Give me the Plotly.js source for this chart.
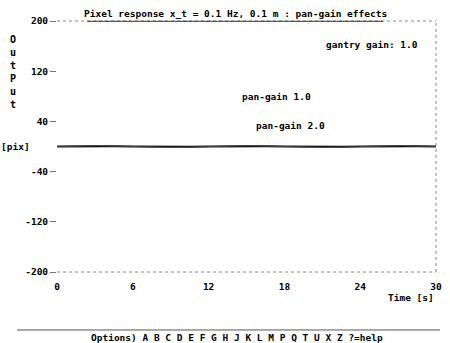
<!DOCTYPE html>
<html>
<head>
<meta charset="utf-8">
<script src="https://cdn.plot.ly/plotly-3.0.1.min.js"></script>
<style>html,body{margin:0;padding:0;background:#fff;}#chart{width:450px;height:343px;}</style>
</head>
<body>
<div id="chart"></div>
<script>
// Time axis samples [s]
const timeS = [0, 1.5, 3, 4.5, 6, 7.5, 9, 10.5, 12, 13.5, 15, 16.5, 18, 19.5, 21, 22.5, 24, 25.5, 27, 28.5, 30];
// Pixel output [pix], pan-gain 1.0 and pan-gain 2.0 (both read as ~0)
const outGain1 = [0, 0.5, 0.8, 0.4, 0, -0.4, -0.8, -0.5, 0, 0.5, 0.8, 0.4, 0, -0.4, -0.8, -0.5, 0, 0.5, 0.8, 0.4, 0];
const outGain2 = [0, 1, 1.5, 0.8, 0, -0.8, -1.5, -1, 0, 1, 1.5, 0.8, 0, -0.8, -1.5, -1, 0, 1, 1.5, 0.8, 0];
const xTicks = [0, 6, 12, 18, 24, 30];
const yTicks = [-200, -120, -40, 40, 120, 200];

const FONT = "DejaVu Sans Mono, Liberation Mono, monospace";
const txt = {family: FONT, size: 9.5, color: "#000", weight: "bold"};

const traces = [
  {x: timeS, y: outGain1, type: "scatter", mode: "lines", line: {color: "#111", width: 2}, name: "pan-gain 1.0", hoverinfo: "skip"},
  {x: timeS, y: outGain2, type: "scatter", mode: "lines", line: {color: "#444", width: 1}, name: "pan-gain 2.0", hoverinfo: "skip"}
];

const layout = {
  width: 450, height: 343,
  margin: {l: 57, r: 14, t: 21, b: 71},
  paper_bgcolor: "#fff", plot_bgcolor: "#fff",
  showlegend: false,
  font: txt,
  xaxis: {
    range: [0, 30], tickvals: xTicks, ticktext: xTicks.map(String),
    ticks: "outside", ticklen: 6, tickcolor: "rgba(0,0,0,0)",
    showline: false, showgrid: false, zeroline: false, tickfont: txt
  },
  yaxis: {
    range: [-200, 200], tickvals: yTicks, ticktext: yTicks.map(String),
    ticks: "outside", ticklen: 6, tickcolor: "#777",
    showline: false, showgrid: false, zeroline: false, tickfont: txt
  },
  shapes: [
    {type: "line", xref: "paper", yref: "paper", x0: 0, x1: 1, y0: 1, y1: 1, line: {color: "#888", width: 1, dash: "dot"}},
    {type: "line", xref: "paper", yref: "paper", x0: 1, x1: 1, y0: 0, y1: 1, line: {color: "#888", width: 1, dash: "dot"}},
    {type: "line", xref: "paper", yref: "paper", x0: 0, x1: 1, y0: 0, y1: 0, line: {color: "#888", width: 1, dash: "dot"}},
    {type: "line", xref: "paper", yref: "paper", x0: 0.08, x1: 0.86, y0: 0.999, y1: 0.999, line: {color: "#333", width: 1}},
    {type: "line", xref: "paper", yref: "paper", x0: -0.1055, x1: 1.0106, y0: -0.231, y1: -0.231, line: {color: "#555", width: 1}}
  ],
  annotations: [
    {text: "Pixel response x_t = 0.1 Hz, 0.1 m : pan-gain effects", xref: "paper", yref: "paper", x: 0.47, y: 1.03, xanchor: "center", yanchor: "middle", showarrow: false, font: txt},
    {text: "O<br>u<br>t<br>P<br>u<br>t", xref: "paper", yref: "paper", x: -0.117, y: 0.955, xanchor: "center", yanchor: "top", showarrow: false, font: {family: FONT, size: 10, color: "#000", weight: "bold"}},
    {text: "[pix]", xref: "paper", yref: "y", x: -0.11, y: 0, xanchor: "center", yanchor: "middle", showarrow: false, font: txt},
    {text: "gantry gain: 1.0", xref: "x", yref: "y", x: 24.9, y: 163, xanchor: "center", yanchor: "middle", showarrow: false, font: txt},
    {text: "pan-gain 1.0", xref: "x", yref: "y", x: 17.4, y: 79, xanchor: "center", yanchor: "middle", showarrow: false, font: txt},
    {text: "pan-gain 2.0", xref: "x", yref: "y", x: 18.5, y: 34, xanchor: "center", yanchor: "middle", showarrow: false, font: txt},
    {text: "Time [s]", xref: "paper", yref: "paper", x: 1.0, y: -0.1, xanchor: "right", yanchor: "middle", showarrow: false, font: txt},
    {text: "Options) A B C D E F G H J K L M P Q T U X Z ?=help", xref: "paper", yref: "paper", x: 0.475, y: -0.259, xanchor: "center", yanchor: "middle", showarrow: false, font: txt}
  ]
};

Plotly.newPlot("chart", traces, layout, {staticPlot: true, displayModeBar: false});
</script>
</body>
</html>
